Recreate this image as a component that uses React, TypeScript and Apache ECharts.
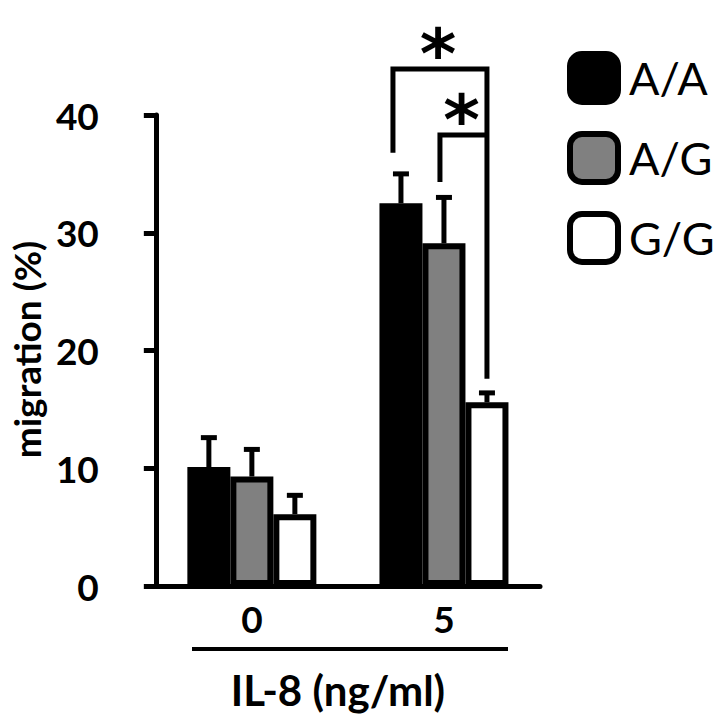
import React, { useEffect, useRef } from 'react';
import * as echarts from 'echarts';

const categories = ['0', '5'];
const genotypes = ['A/A', 'A/G', 'G/G'];
const fills = ['#000000', '#808080', '#ffffff'];
const meanAA = [10.1, 32.5];
const meanAG = [9.3, 29.1];
const meanGG = [6.1, 15.6];
const errAA = [2.5, 2.5];
const errAG = [2.3, 3.9];
const errGG = [1.6, 0.8];
const yMin = 0;
const yMax = 40;
const yStep = 10;
// significance brackets (category index, left/right genotype index, heights in axis units)
const brackets = [
  { cat: 1, from: 0, to: 2, top: 43.9, leftEnd: 36.8, rightEnd: 17.6, label: '*' },
  { cat: 1, from: 1, to: 2, top: 38.3, leftEnd: 34.3, rightEnd: 38.3, label: '*' },
];

const means = [meanAA, meanAG, meanGG];
const errs = [errAA, errAG, errGG];

const BAR_W = 43;
const FONT = 'Lato, "Open Sans", sans-serif';

export default function App() {
  const ref = useRef<HTMLDivElement>(null);
  useEffect(() => {
    if (!ref.current) return;
    const chart = echarts.init(ref.current, null, { renderer: 'svg' });

    const barSeries = genotypes.map((g, i) => ({
      name: g,
      type: 'bar',
      data: means[i],
      barWidth: BAR_W,
      barGap: '0%',
      itemStyle: { color: fills[i], borderColor: '#000', borderWidth: 6 },
      z: 2,
    }));

    const errData: number[][] = [];
    genotypes.forEach((_, g) => {
      categories.forEach((__, c) => {
        errData.push([c, means[g][c], means[g][c] + errs[g][c], g]);
      });
    });

    const errSeries = {
      type: 'custom',
      name: 'err',
      data: errData,
      z: 3,
      clip: false,
      renderItem: (params: any, api: any) => {
        const c = api.value(0);
        const mean = api.value(1);
        const up = api.value(2);
        const g = api.value(3);
        const base = api.coord([c, mean]);
        const top = api.coord([c, up]);
        const x = base[0] + (g - 1) * BAR_W;
        return {
          type: 'group',
          children: [
            { type: 'line', shape: { x1: x, y1: base[1], x2: x, y2: top[1] }, style: { stroke: '#000', lineWidth: 5 } },
            { type: 'line', shape: { x1: x - 8, y1: top[1], x2: x + 8, y2: top[1] }, style: { stroke: '#000', lineWidth: 5 } },
          ],
        };
      },
    };

    const brSeries = {
      type: 'custom',
      name: 'sig',
      data: brackets.map((b) => [b.cat, b.from, b.to, b.top, b.leftEnd, b.rightEnd]),
      z: 4,
      clip: false,
      renderItem: (params: any, api: any) => {
        const c = api.value(0);
        const from = api.value(1);
        const to = api.value(2);
        const topP = api.coord([c, api.value(3)]);
        const lP = api.coord([c, api.value(4)]);
        const rP = api.coord([c, api.value(5)]);
        const xl = topP[0] + (from - 1) * BAR_W - (from === 0 ? 8 : 4);
        const xr = topP[0] + (to - 1) * BAR_W;
        return {
          type: 'group',
          children: [
            {
              type: 'polyline',
              shape: { points: [[xl, lP[1]], [xl, topP[1]], [xr, topP[1]], [xr, rP[1]]] },
              style: { stroke: '#000', lineWidth: 5, fill: 'none', lineJoin: 'miter' },
            },
            {
              type: 'text',
              x: (xl + xr) / 2 - 2,
              y: topP[1] + 5,
              style: {
                text: brackets[params.dataIndex].label,
                fill: '#000',
                font: 'bold 70px "DejaVu Sans"',
                lineHeight: 40,
                align: 'center',
                verticalAlign: 'bottom',
              },
            },
          ],
        };
      },
    };

    chart.setOption({
      animation: false,
      backgroundColor: '#ffffff',
      grid: { left: 154, right: 180, top: 115, bottom: 128 },
      legend: {
        orient: 'vertical',
        left: 567,
        top: 51,
        padding: 0,
        itemWidth: 48,
        itemHeight: 48,
        itemGap: 26,
        icon: 'roundRect',
        textStyle: { fontFamily: FONT, fontSize: 45, color: '#000', lineHeight: 52, padding: [0, 0, 0, 6] },
        data: genotypes.map((g, i) => ({
          name: g,
          itemStyle: { color: fills[i], borderColor: '#000', borderWidth: 6 },
        })),
      },
      xAxis: {
        type: 'category',
        data: categories,
        axisLine: { show: true, lineStyle: { color: '#000', width: 5 } },
        axisTick: { show: false },
        axisLabel: { color: '#000', fontFamily: FONT, fontWeight: 'bold', fontSize: 37, margin: 14 },
        name: 'IL-8 (ng/ml)',
        nameLocation: 'middle',
        nameGap: 83,
        nameTextStyle: { color: '#000', fontFamily: FONT, fontWeight: 'bold', fontSize: 42, padding: [0, 20, 0, 0] },
      },
      yAxis: {
        type: 'value',
        min: yMin,
        max: yMax,
        interval: yStep,
        splitLine: { show: false },
        axisLine: { show: true, lineStyle: { color: '#000', width: 5 } },
        axisTick: { show: true, length: 12, lineStyle: { color: '#000', width: 5 } },
        axisLabel: { color: '#000', fontFamily: FONT, fontWeight: 'bold', fontSize: 37, margin: 57 },
        name: 'migration (%)',
        nameLocation: 'middle',
        nameGap: 106,
        nameTextStyle: { color: '#000', fontFamily: FONT, fontWeight: 'bold', fontSize: 37, padding: [0, 0, 0, 2] },
      },
      graphic: [
        { type: 'line', shape: { x1: 192, y1: 649, x2: 508, y2: 649 }, style: { stroke: '#000', lineWidth: 4 } },
      ],
      series: [...barSeries, errSeries, brSeries],
    });
    return () => chart.dispose();
  }, []);
  return <div ref={ref} style={{ width: 720, height: 716, position: 'absolute', left: 0, top: 0 }} />;
}
